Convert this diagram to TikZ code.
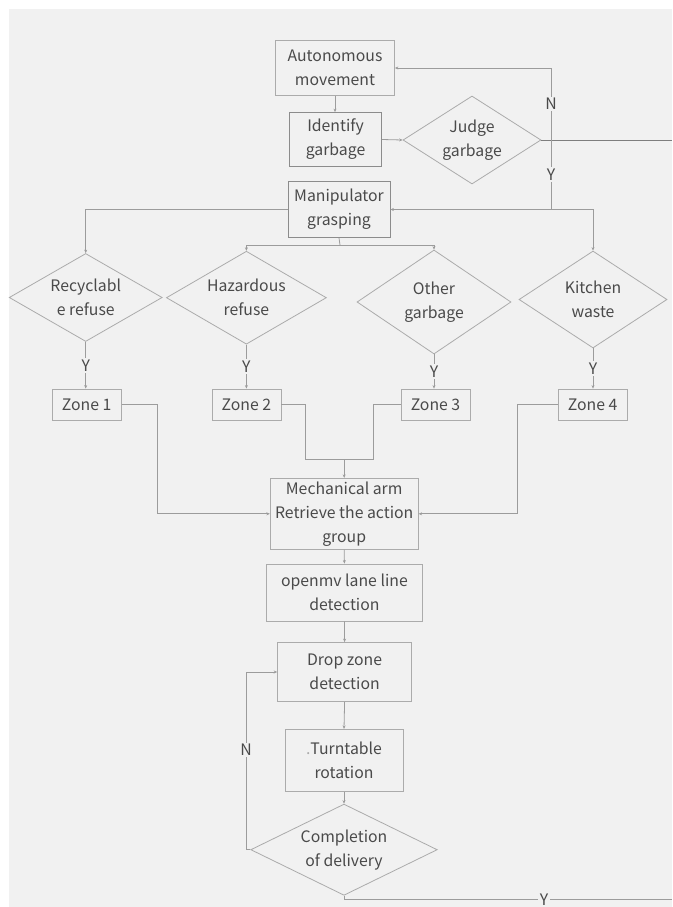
\documentclass[tikz,border=0pt]{standalone}
\usepackage{fontspec}
\setmainfont{Noto Sans CJK SC}
\usepackage{xcolor}
\usetikzlibrary{shapes.geometric,arrows.meta,positioning}
\definecolor{bg}{HTML}{FFFFFF}
\definecolor{panel}{HTML}{F1F1F1}
\definecolor{edge}{HTML}{ABABAB}
\definecolor{edgedk}{HTML}{8C8C8C}
\definecolor{ink}{HTML}{4A4A4A}
\definecolor{wire}{HTML}{9C9C9C}
\definecolor{wiredk}{HTML}{7E7E7E}
\newcommand{\fs}{\fontsize{15.8}{24}\selectfont}
\tikzset{
  box/.style={draw=edge, line width=0.8pt, fill=panel, text=ink, align=center, inner sep=0pt, font=\fs},
  boxdk/.style={box, draw=edgedk},
  choice/.style={diamond, aspect=1.7, draw=edge, line width=0.8pt, text=ink, align=center, inner sep=0pt, font=\fs},
  wire/.style={draw=wire, line width=0.8pt},
  go/.style={wire, -{Stealth[length=3.5pt,width=3pt]}},
  yn/.style={text=ink, fill=panel, inner sep=1.5pt, font=\fs},
}

\begin{document}
\begin{tikzpicture}[x=1pt,y=-1pt]
% canvas
\fill[bg] (0,0) rectangle (672,907);
\fill[panel] (8.6,9) rectangle (672,907);
\useasboundingbox (0,0) rectangle (672,907);

% search loop
\node[box, minimum width=119pt, minimum height=55pt] (auto) at (335,68) {Autonomous\\movement};
\node[boxdk, minimum width=92pt, minimum height=54pt] (ident) at (335.5,139.5) {Identify\\garbage};
\node[choice, minimum width=138pt, minimum height=88pt] (judge) at (472,140) {Judge\\garbage};
\node[boxdk, minimum width=102pt, minimum height=56pt] (grasp) at (339,209.5) {Manipulator\\grasping};
\coordinate (jn) at (551,140);
\coordinate (exitR) at (672,140);

\draw[go] (auto.south) -- (auto.south |- ident.north);
\draw[go] (ident.east) -- (judge.west);
\draw[wiredk] (judge.east) -- (exitR);
\draw[go] (jn) -- node[yn]{N} (jn |- auto.east) -- (auto.east);
\draw[go] (jn) -- node[yn]{Y} (jn |- grasp.east) -- (grasp.east);

% sorting
\node[choice, minimum width=153pt, minimum height=88pt] (recy) at (85.7,297.5) {Recyclabl\\e refuse};
\node[choice, minimum width=160pt, minimum height=93pt] (haz) at (246.4,297.7) {Hazardous\\refuse};
\node[choice, minimum width=154pt, minimum height=104pt] (other) at (434,302) {Other\\garbage};
\node[choice, minimum width=148pt, minimum height=97pt] (kitchen) at (593,299.5) {Kitchen\\waste};
\coordinate (split) at (340,245);

\draw[go] (jn |- grasp.east) -| (kitchen.north);
\draw[go] (grasp.west) -| (recy.north);
\draw[wire] (grasp.south) -- (split);
\draw[go] (split) -| (haz.north);
\draw[go] (split) -| (other.north);

\foreach \i/\x in {1/86.6,2/246.4,3/435.5,4/592.7}
  \node[box, minimum width=69pt, minimum height=31pt] (zone\i) at (\x,404.5) {Zone \i};
\foreach \d/\z in {recy/zone1,haz/zone2,other/zone3,kitchen/zone4}
  \draw[go] (\d.south) -- node[yn]{Y} (\d.south |- \z.north);

% delivery
\node[box, minimum width=148pt, minimum height=71pt] (arm) at (344.2,513.8) {Mechanical arm\\Retrieve the action\\group};
\node[box, minimum width=156pt, minimum height=57pt] (lane) at (344.4,592.5) {openmv lane line\\detection};
\node[box, minimum width=134pt, minimum height=59pt] (drop) at (344.6,672) {Drop zone\\detection};
\node[box, minimum width=118pt, minimum height=62pt] (turn) at (344,760.3) {{\color{edge}.}Turntable\\rotation};
\node[choice, minimum width=186.5pt, minimum height=86pt] (done) at (344,849.7) {Completion\\of delivery};
\coordinate (merge) at (344.2,459.5);
\coordinate (exitB) at (672,899.3);

\draw[go] (zone1.east) -- ++(36,0) |- (arm.west);
\draw[wire] (zone2.east) -- ++(23.6,0) |- (merge);
\draw[wire] (zone3.west) -- ++(-26.8,0) |- (merge);
\draw[go] (merge) -- (arm.north);
\draw[go] (zone4.west) -- ++(-40.7,0) |- (arm.east);

\draw[go] (arm.south) -- (lane.north);
\draw[go] (lane.south) -- (drop.north);
\draw[go] (drop.south) -- (turn.north);
\draw[go] (turn.south) -- (done.north);
\draw[go] (done.west) -- ++(-4.3,0) |- node[yn, pos=0.28]{N} (drop.west);
\draw[wire] (done.south) |- node[yn, pos=0.805]{Y} (exitB);
\end{tikzpicture}
\end{document}
